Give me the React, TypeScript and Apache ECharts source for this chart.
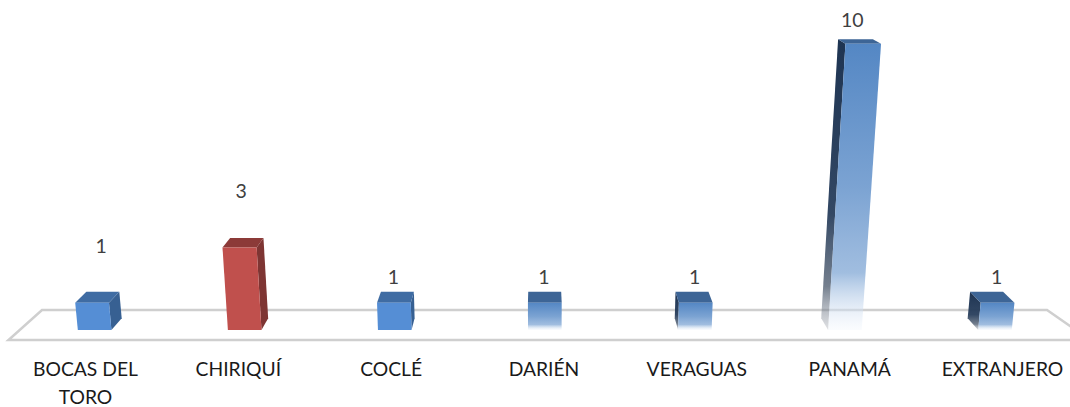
import React, { useEffect, useRef } from "react";
import * as echarts from "echarts";

const categories = ["BOCAS DEL\nTORO", "CHIRIQUÍ", "COCLÉ", "DARIÉN", "VERAGUAS", "PANAMÁ", "EXTRANJERO"];
const values = [1, 3, 1, 1, 1, 10, 1];
const finishes = ["flat", "red", "flat", "fade", "fade", "fade", "fade"];
const labelNudgeX = [9, 1.5, -0.5, -1, -1, -11, -1];
const labelLift = [57, 57, 26, 26, 26, 24, 26];

const VANISH_X = 540;
const PERSPECTIVE = 0.00021;
const DEPTH_X = 0.024;
const BAR_RATIO = 33.6 / 150.14;
const FONT = "Lato";

const fade = (stops: [number, string][]) =>
  new echarts.graphic.LinearGradient(0, 0, 0, 1, stops.map(([offset, color]) => ({ offset, color })));

const palette: Record<string, () => { front: any; top: string; side: any }> = {
  flat: () => ({ front: "#558ED5", top: "#3F6CA3", side: "#376092" }),
  red: () => ({ front: "#C0504D", top: "#8C3A38", side: "#7E3533" }),
  fade: () => ({
    front: fade([
      [0, "rgba(84,135,196,1)"],
      [0.5, "rgba(122,162,210,0.99)"],
      [0.8, "rgba(150,182,220,0.9)"],
      [1, "rgba(240,245,252,0.3)"],
    ]),
    top: "#3D6596",
    side: fade([
      [0, "rgba(30,52,82,1)"],
      [0.6, "rgba(40,62,92,0.95)"],
      [0.85, "rgba(70,85,105,0.75)"],
      [1, "rgba(150,155,165,0.3)"],
    ]),
  }),
};

function renderBar(params: any, api: any) {
  const idx = api.value(0);
  const val = api.value(1);
  const base = api.coord([idx, 0]);
  const tip = api.coord([idx, val]);
  const half = (api.size([1, 0])[0] * BAR_RATIO) / 2;
  const rawH = base[1] - tip[1];
  const h = rawH / (1 - rawH * PERSPECTIVE);
  const lean = 1 + PERSPECTIVE * h;
  const y0 = base[1];
  const yTop = y0 - h;
  const lift = (x: number) => VANISH_X + (x - VANISH_X) * lean;
  const back = (p: number[]) => {
    const dy = 4.5 + (p[1] - 44) * 0.0256;
    return [p[0] + (VANISH_X - p[0]) * DEPTH_X, p[1] - dy];
  };
  const bl = [base[0] - half, y0];
  const br = [base[0] + half, y0];
  const tl = [lift(bl[0]), yTop];
  const tr = [lift(br[0]), yTop];
  const colors = palette[finishes[idx]]();
  const children: any[] = [];
  if (br[0] < VANISH_X) {
    children.push({ type: "polygon", shape: { points: [tr, back(tr), back(br), br] }, style: { fill: colors.side } });
  }
  if (bl[0] > VANISH_X) {
    children.push({ type: "polygon", shape: { points: [tl, back(tl), back(bl), bl] }, style: { fill: colors.side } });
  }
  children.push({ type: "polygon", shape: { points: [tl, tr, back(tr), back(tl)] }, style: { fill: colors.top } });
  children.push({ type: "polygon", shape: { points: [bl, br, tr, tl] }, style: { fill: colors.front } });
  children.push({
    type: "text",
    style: {
      x: (tl[0] + tr[0]) / 2 + labelNudgeX[idx],
      y: yTop - labelLift[idx],
      text: String(val),
      fill: "#404040",
      font: `19.5px ${FONT}`,
      align: "center",
      verticalAlign: "middle",
    },
  });
  return { type: "group", children };
}

export default function App() {
  const ref = useRef<HTMLDivElement>(null);
  useEffect(() => {
    document.body.style.margin = "0";
    const chart = echarts.init(ref.current!, undefined, { renderer: "svg" });
    chart.setOption({
      animation: false,
      backgroundColor: "#fff",
      graphic: [
        {
          type: "polygon",
          z: 0,
          silent: true,
          shape: { points: [[8.5, 340], [1090, 340], [1047, 310], [42, 310]] },
          style: { fill: "#fff", stroke: "#CFCFCF", lineWidth: 2.5 },
        },
      ],
      grid: [
        { left: 19.6, top: 60, width: 1051, height: 270 },
        { left: 85.5, top: 353, width: 917, height: 5 },
      ],
      xAxis: [
        { type: "category", gridIndex: 0, data: categories, show: false },
        {
          type: "category",
          gridIndex: 1,
          boundaryGap: false,
          data: categories,
          axisLine: { show: false },
          axisTick: { show: false },
          axisLabel: {
            interval: 0,
            hideOverlap: false,
            color: "#1A1A1A",
            fontFamily: FONT,
            fontSize: 19.3,
            lineHeight: 28,
            margin: 0,
          },
        },
      ],
      yAxis: [
        { type: "value", gridIndex: 0, min: 0, max: 10, show: false },
        { type: "value", gridIndex: 1, min: 0, max: 1, show: false },
      ],
      series: [
        {
          type: "custom",
          xAxisIndex: 0,
          yAxisIndex: 0,
          z: 5,
          silent: true,
          clip: false,
          renderItem: renderBar,
          data: values.map((v, i) => [i, v]),
          encode: { x: 0, y: 1 },
        },
      ],
    });
    return () => chart.dispose();
  }, []);
  return <div ref={ref} style={{ width: 1070, height: 407, overflow: "hidden" }} />;
}
